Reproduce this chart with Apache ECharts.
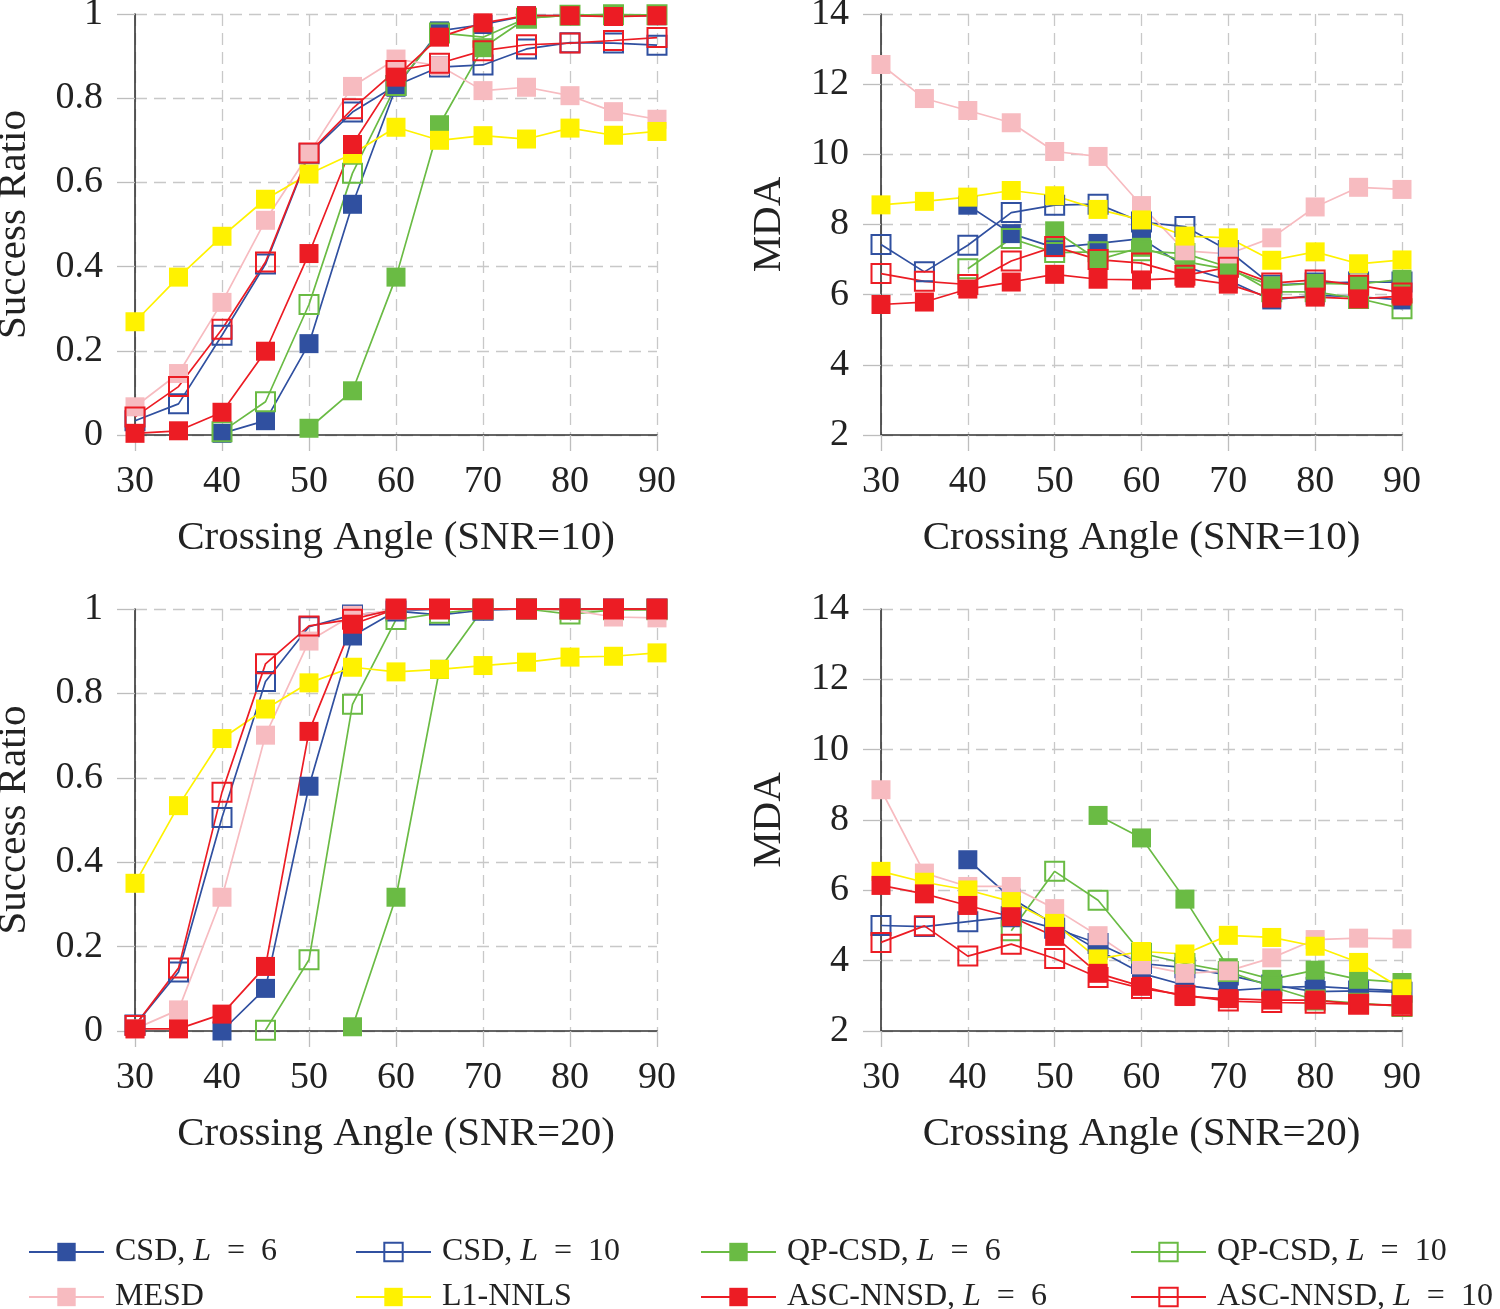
<!DOCTYPE html>
<html>
<head>
<meta charset="utf-8">
<script src="https://cdn.jsdelivr.net/npm/echarts@6/dist/echarts.min.js"></script>
<style>
html,body{margin:0;padding:0;background:#fff;}
#chart{width:1500px;height:1309px;}
</style>
</head>
<body>
<div id="chart"></div>
<script>
// ---- data ----
const angles = [30, 35, 40, 45, 50, 55, 60, 65, 70, 75, 80, 85, 90];
const seriesNames = ['CSD, L = 6', 'CSD, L = 10', 'QP-CSD, L = 6', 'QP-CSD, L = 10', 'MESD', 'L1-NNLS', 'ASC-NNSD, L = 6', 'ASC-NNSD, L = 10'];
const xAxisNames = ['Crossing Angle (SNR=10)', 'Crossing Angle (SNR=10)', 'Crossing Angle (SNR=20)', 'Crossing Angle (SNR=20)'];
const yAxisNames = ['Success Ratio', 'MDA', 'Success Ratio', 'MDA'];
const xTicks = [30, 40, 50, 60, 70, 80, 90];
const srTicks = [0, 0.2, 0.4, 0.6, 0.8, 1];
const mdaTicks = [2, 4, 6, 8, 10, 12, 14];

// Success ratio, SNR=10
const sr10_csd6  = [null, null, 0.004, 0.034, 0.217, 0.548, 0.826, 0.96, 0.975, 0.996, 0.996, 0.996, 0.996];
const sr10_csd10 = [0.034, 0.074, 0.237, 0.406, 0.668, 0.767, 0.83, 0.874, 0.879, 0.917, 0.932, 0.931, 0.926];
const sr10_qp6   = [null, null, null, null, 0.016, 0.105, 0.375, 0.737, 0.92, 0.99, 0.997, 0.999, 0.997];
const sr10_qp10  = [null, null, 0.008, 0.079, 0.31, 0.622, 0.83, 0.955, 0.945, 0.99, 0.997, 0.998, 0.998];
const sr10_mesd  = [0.067, 0.146, 0.315, 0.51, 0.668, 0.828, 0.893, 0.877, 0.818, 0.826, 0.806, 0.768, 0.75];
const sr10_l1    = [0.269, 0.375, 0.472, 0.56, 0.62, 0.668, 0.731, 0.70, 0.711, 0.703, 0.729, 0.712, 0.721];
const sr10_asc6  = [0.004, 0.01, 0.054, 0.199, 0.431, 0.69, 0.85, 0.945, 0.979, 0.996, 0.996, 0.994, 0.996];
const sr10_asc10 = [0.043, 0.115, 0.251, 0.411, 0.67, 0.775, 0.866, 0.883, 0.913, 0.927, 0.931, 0.937, 0.944];

// MDA, SNR=10
const mda10_csd6  = [null, null, 8.55, 7.74, 7.34, 7.46, 7.6, 6.8, 6.41, 5.85, 5.98, 5.94, 5.85];
const mda10_csd10 = [7.43, 6.65, 7.41, 8.34, 8.55, 8.58, 8.07, 7.94, 7.26, 6.27, 6.33, 6.36, 6.36];
const mda10_qp6   = [null, null, null, null, 7.82, 6.99, 7.35, 6.94, 6.72, 6.25, 6.32, 6.3, 6.44];
const mda10_qp10  = [null, null, 6.74, 7.6, 7.2, 7.22, 7.25, 7.17, 6.79, 6.08, 6.08, 5.89, 5.6];
const mda10_mesd  = [12.56, 11.59, 11.25, 10.9, 10.08, 9.94, 8.54, 7.25, 7.16, 7.62, 8.5, 9.06, 9.0];
const mda10_l1    = [8.56, 8.66, 8.78, 8.97, 8.82, 8.43, 8.13, 7.67, 7.62, 6.98, 7.22, 6.88, 6.99];
const mda10_asc6  = [5.72, 5.79, 6.16, 6.36, 6.58, 6.44, 6.42, 6.47, 6.3, 5.9, 5.93, 5.88, 5.96];
const mda10_asc10 = [6.6, 6.38, 6.29, 6.96, 7.37, 7.0, 6.9, 6.55, 6.78, 6.33, 6.42, 6.27, 6.05];

// Success ratio, SNR=20
const sr20_csd6  = [null, null, 0, 0.101, 0.58, 0.936, 0.995, 1, 1, 1, 1, 1, 1];
const sr20_csd10 = [0.014, 0.14, 0.506, 0.828, 0.958, 0.986, 0.995, 0.986, 0.997, 1, 1, 1, 1];
const sr20_qp6   = [null, null, null, null, null, 0.01, 0.317, 0.857, 1, 1, 0.997, 1, 1];
const sr20_qp10  = [null, null, null, 0.002, 0.169, 0.774, 0.975, 0.99, 1, 1, 0.988, 0.998, 0.998];
const sr20_mesd  = [0.005, 0.05, 0.317, 0.701, 0.924, 0.985, 0.998, 1, 1, 1, 0.998, 0.981, 0.979];
const sr20_l1    = [0.35, 0.534, 0.693, 0.763, 0.825, 0.862, 0.851, 0.857, 0.866, 0.874, 0.886, 0.888, 0.896];
const sr20_asc6  = [0.005, 0.005, 0.04, 0.153, 0.71, 0.964, 1, 1, 1, 1, 1, 1, 1];
const sr20_asc10 = [0.013, 0.149, 0.566, 0.87, 0.96, 0.976, 1, 1, 1, 1, 1, 1, 1];

// MDA, SNR=20
const mda20_csd6  = [null, null, 6.87, 5.78, 5.02, 4.3, 3.64, 3.3, 3.15, 3.23, 3.27, 3.2, 3.14];
const mda20_csd10 = [5.0, 4.97, 5.11, 5.25, 4.92, 4.49, 3.92, 3.8, 3.59, 3.31, 3.12, 3.14, 3.1];
const mda20_qp6   = [null, null, null, null, null, 8.13, 7.49, 5.75, 3.8, 3.47, 3.73, 3.47, 3.38];
const mda20_qp10  = [null, null, null, 4.85, 6.54, 5.72, 4.21, 3.92, 3.69, 3.26, 2.88, 2.79, 2.7];
const mda20_mesd  = [8.86, 6.49, 6.11, 6.11, 5.48, 4.71, 3.88, 3.64, 3.71, 4.08, 4.6, 4.64, 4.62];
const mda20_l1    = [6.54, 6.23, 6.01, 5.68, 5.06, 4.05, 4.26, 4.19, 4.72, 4.66, 4.41, 3.95, 3.2];
const mda20_asc6  = [6.14, 5.9, 5.57, 5.25, 4.69, 3.64, 3.27, 2.98, 2.92, 2.88, 2.88, 2.76, 2.74];
const mda20_asc10 = [4.52, 4.99, 4.13, 4.47, 4.06, 3.52, 3.21, 3.02, 2.85, 2.81, 2.79, 2.76, 2.72];

// ---- styling ----
const FONT = 'Liberation Serif';
const BLUE = '#3050A0', GREEN = '#6ABB44', PINK = '#F7BBC0', YELLOW = '#FFF200', RED = '#EC1C24';
const seriesColors = [BLUE, BLUE, GREEN, GREEN, PINK, YELLOW, RED, RED];
const seriesFilled = [true, false, true, false, true, true, true, false];

const panels = [
  [sr10_csd6, sr10_csd10, sr10_qp6, sr10_qp10, sr10_mesd, sr10_l1, sr10_asc6, sr10_asc10],
  [mda10_csd6, mda10_csd10, mda10_qp6, mda10_qp10, mda10_mesd, mda10_l1, mda10_asc6, mda10_asc10],
  [sr20_csd6, sr20_csd10, sr20_qp6, sr20_qp10, sr20_mesd, sr20_l1, sr20_asc6, sr20_asc10],
  [mda20_csd6, mda20_csd10, mda20_qp6, mda20_qp10, mda20_mesd, mda20_l1, mda20_asc6, mda20_asc10]
];

const gridPos = [
  {left: 135, top: 14, width: 522, height: 421},
  {left: 881, top: 14, width: 521, height: 421},
  {left: 135, top: 609, width: 522, height: 422},
  {left: 881, top: 609, width: 521, height: 422}
];

const grids = [], xAxes = [], yAxes = [], series = [];
for (let p = 0; p < 4; p++) {
  grids.push(Object.assign({containLabel: false, outerBoundsMode: 'none'}, gridPos[p]));
  xAxes.push({
    type: 'value', gridIndex: p, min: xTicks[0], max: xTicks[xTicks.length - 1], interval: 10,
    name: xAxisNames[p], nameLocation: 'middle', nameGap: 83,
    nameTextStyle: {fontFamily: FONT, fontSize: 41, color: '#222'},
    axisLine: {show: true, onZero: false, lineStyle: {color: '#333', width: 1.6}},
    axisTick: {show: true, length: 16, lineStyle: {color: '#bdbdbd', width: 1.3}},
    axisLabel: {fontFamily: FONT, fontSize: 38, color: '#222', margin: 28},
    splitLine: {show: true, lineStyle: {color: '#c8c8c8', width: 1.3, type: [12, 7]}}
  });
  const isSR = (p % 2 === 0);
  const yt = isSR ? srTicks : mdaTicks;
  yAxes.push({
    type: 'value', gridIndex: p, min: yt[0], max: yt[yt.length - 1], interval: isSR ? 0.2 : 2,
    name: yAxisNames[p], nameLocation: 'middle', nameGap: isSR ? 100 : 91,
    nameTextStyle: {fontFamily: FONT, fontSize: 41, color: '#222'},
    axisLine: {show: true, onZero: false, lineStyle: {color: '#333', width: 1.6}},
    axisTick: {show: true, length: 18, lineStyle: {color: '#bdbdbd', width: 1.3}},
    axisLabel: {fontFamily: FONT, fontSize: 38, color: '#222', margin: 32,
      formatter: v => String(Math.round(v * 10) / 10)},
    splitLine: {show: true, lineStyle: {color: '#c8c8c8', width: 1.3, type: [12, 7]}}
  });
  for (let s = 0; s < 8; s++) {
    const c = seriesColors[s];
    const vals = panels[p][s];
    series.push({
      type: 'line', name: seriesNames[s], xAxisIndex: p, yAxisIndex: p,
      data: angles.map((a, i) => [a, vals[i] === null ? '-' : vals[i]]),
      symbol: 'rect', symbolSize: 19, showAllSymbol: true,
      lineStyle: {color: c, width: 1.7},
      itemStyle: seriesFilled[s] ? {color: c} : {color: 'rgba(255,255,255,0)', borderColor: c, borderWidth: 2},
      emphasis: {disabled: true}, silent: true, clip: false
    });
  }
}

const legendCols = [
  {left: 28, names: [seriesNames[0], seriesNames[4]]},
  {left: 355, names: [seriesNames[1], seriesNames[5]]},
  {left: 700, names: [seriesNames[2], seriesNames[6]]},
  {left: 1130, names: [seriesNames[3], seriesNames[7]]}
];
const legends = legendCols.map(col => ({
  orient: 'vertical', left: col.left, top: 1236, height: 120, padding: 0,
  itemWidth: 75, itemHeight: 23, itemGap: 13, selectedMode: false,
  data: col.names,
  formatter: n => n.replace(', L = ', ', {i|L}\u2002=\u2002'),
  textStyle: {fontFamily: FONT, fontSize: 32, lineHeight: 28, color: '#222', padding: [0, 0, 0, 6],
    rich: {i: {fontFamily: FONT, fontSize: 32, lineHeight: 28, fontStyle: 'italic', color: '#222'}}}
}));

const chart = echarts.init(document.getElementById('chart'), null, {renderer: 'canvas'});
chart.setOption({
  animation: false,
  backgroundColor: '#fff',
  grid: grids, xAxis: xAxes, yAxis: yAxes, series: series, legend: legends
});
</script>
</body>
</html>
